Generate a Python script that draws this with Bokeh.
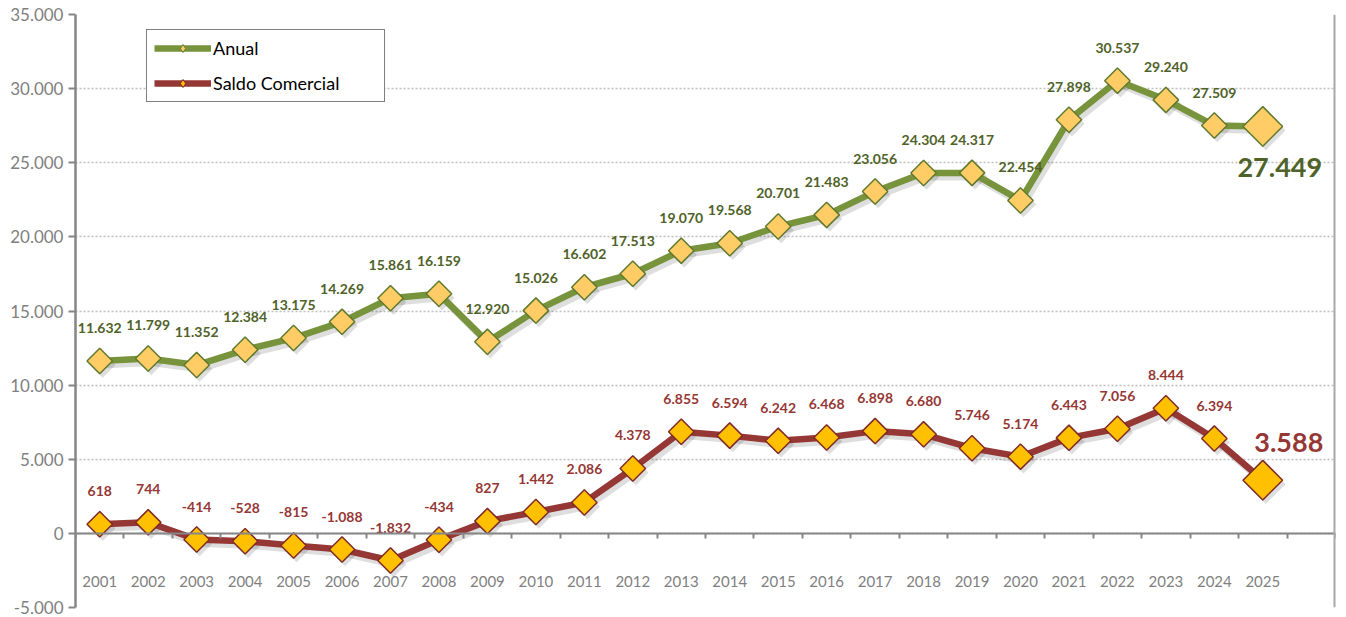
import math
from bokeh.plotting import figure
from bokeh.models import (Range1d, FixedTicker, LinearAxis, Legend, LegendItem,
                          Span, ColumnDataSource)
from bokeh.embed import file_html
from bokeh.resources import INLINE
from bokeh.core.properties import value

# ---------------- data ----------------
years = list(range(2001, 2026))
anual = [11632, 11799, 11352, 12384, 13175, 14269, 15861, 16159, 12920, 15026,
         16602, 17513, 19070, 19568, 20701, 21483, 23056, 24304, 24317, 22454,
         27898, 30537, 29240, 27509, 27449]
saldo = [618, 744, -414, -528, -815, -1088, -1832, -434, 827, 1442,
         2086, 4378, 6855, 6594, 6242, 6468, 6898, 6680, 5746, 5174,
         6443, 7056, 8444, 6394, 3588]
series_names = ["Anual", "Saldo Comercial"]
y_ticks = [-5000, 0, 5000, 10000, 15000, 20000, 25000, 30000, 35000]
y_tick_labels = ["-5.000", "0", "5.000", "10.000", "15.000", "20.000",
                 "25.000", "30.000", "35.000"]
year_labels = [str(y) for y in years]


def fmt(v):
    return f"{v:,}".replace(",", ".")


FONT = "Lato"
GREEN = "#77933C"
GREEN_TXT = "#4F6228"
GREEN_EDGE = "#5F7A2C"
GREEN_FILL = "#FFCC66"
RED = "#953735"
RED_TXT = "#953735"
RED_EDGE = "#7F2A28"
RED_FILL = "#FFC000"
AXIS = "#868686"
LBL = "#7F7F7F"

x0, x1 = years[0] - 0.5, years[-1] + 1.5
y0, y1 = y_ticks[0], y_ticks[-1]
FW, FH = 1260, 593

p = figure(frame_width=FW, frame_height=FH,
           x_range=Range1d(x0, x1), y_range=Range1d(y0, y1),
           output_backend="svg", toolbar_location=None,
           min_border_left=75, min_border_top=14, min_border_right=9,
           min_border_bottom=10, outline_line_color=None,
           background_fill_color="white", border_fill_color="white")

# shadow ranges (shift a few pixels right/down)
dx = 3 * (x1 - x0) / FW
dy = 4 * (y1 - y0) / FH
p.extra_x_ranges = {"sh": Range1d(x0 - dx, x1 - dx)}
p.extra_y_ranges = {"sh": Range1d(y0 + dy, y1 + dy)}

# --- x axis (at zero, ticks between categories) ---
bounds = [y - 0.5 for y in years] + [years[-1] + 0.5, years[-1] + 1.5]
xa = p.xaxis[0]
xa.fixed_location = 0
xa.ticker = FixedTicker(ticks=bounds)
xa.major_label_overrides = {b: " " for b in bounds}
xa.major_label_standoff = 0
xa.major_tick_in = 0
xa.major_tick_out = 5
xa.major_tick_line_color = AXIS
xa.major_tick_line_width = 2
xa.minor_tick_line_color = None
xa.axis_line_color = AXIS
xa.axis_line_width = 2

# year labels axis (low position)
ya_lab = LinearAxis(fixed_location=0, ticker=FixedTicker(ticks=years),
                    major_label_overrides={y: s for y, s in zip(years, year_labels)},
                    axis_line_color=None, major_tick_line_color=None,
                    minor_tick_line_color=None, major_label_standoff=37,
                    major_label_text_font=FONT, major_label_text_font_size="15px",
                    major_label_text_color=LBL)
p.add_layout(ya_lab, "below")

# --- y axis ---
yax = p.yaxis[0]
yax.ticker = FixedTicker(ticks=y_ticks)
yax.major_label_overrides = {t: s for t, s in zip(y_ticks, y_tick_labels)}
yax.axis_line_color = AXIS
yax.axis_line_width = 2.5
yax.major_tick_in = 0
yax.major_tick_out = 7
yax.major_tick_line_color = AXIS
yax.major_tick_line_width = 2
yax.minor_tick_line_color = None
yax.major_label_standoff = 5
yax.major_label_text_font = FONT
yax.major_label_text_font_size = "17px"
yax.major_label_text_color = LBL

p.xgrid.visible = False
p.ygrid.ticker = FixedTicker(ticks=y_ticks)
p.ygrid.grid_line_color = "#BFBFBF"
p.ygrid.grid_line_dash = "2 2"
p.ygrid.grid_line_width = 1.5

# right border shadow
p.add_layout(Span(location=x1, dimension="height", line_color="#A8A8A8", line_width=4))

# --- series ---
def draw_series(vals, line_c, edge_c, fill_c):
    # shadows
    p.line(years, vals, x_range_name="sh", y_range_name="sh",
           line_color="black", line_alpha=0.13, line_width=7, line_join="round")
    p.scatter(years[:-1], vals[:-1], x_range_name="sh", y_range_name="sh",
              marker="square", angle=math.pi / 4, size=18,
              fill_color="black", fill_alpha=0.13, line_color=None)
    p.scatter(years[-1:], vals[-1:], x_range_name="sh", y_range_name="sh",
              marker="square", angle=math.pi / 4, size=28,
              fill_color="black", fill_alpha=0.13, line_color=None)
    ln = p.line(years, vals, line_color=line_c, line_width=6.5, line_join="round")
    # diamond marker used for the legend glyph (hidden beneath the big squares)
    lg = p.scatter(years[:-1], vals[:-1], marker="diamond", size=16,
                   fill_color=fill_c, line_color=edge_c, line_width=1)
    p.scatter(years[:-1], vals[:-1], marker="square", angle=math.pi / 4,
              size=18, fill_color=fill_c, line_color=edge_c, line_width=1.5)
    p.scatter(years[-1:], vals[-1:], marker="square", angle=math.pi / 4,
              size=28, fill_color=fill_c, line_color=edge_c, line_width=1.5)
    return ln, lg


g_ln, g_sc = draw_series(anual, GREEN, GREEN_EDGE, GREEN_FILL)
r_ln, r_sc = draw_series(saldo, RED, RED_EDGE, RED_FILL)

# --- data labels ---
def labels(vals, color):
    src = ColumnDataSource(dict(x=years[:-1], y=vals[:-1],
                                t=[fmt(v) for v in vals[:-1]]))
    p.text(x="x", y="y", text="t", source=src, text_font=value(FONT),
           text_font_style="bold", text_font_size="14px", text_color=color,
           text_align="center", text_baseline="middle", y_offset=-33)


labels(anual, GREEN_TXT)
labels(saldo, RED_TXT)

p.text(x=years[-1:], y=anual[-1:], text=[fmt(anual[-1])], text_font=value(FONT),
       text_font_style="bold", text_font_size="27px", text_color=GREEN_TXT,
       text_align="center", text_baseline="middle", x_offset=17, y_offset=41)
p.text(x=years[-1:], y=saldo[-1:], text=[fmt(saldo[-1])], text_font=value(FONT),
       text_font_style="bold", text_font_size="27px", text_color=RED_TXT,
       text_align="center", text_baseline="middle", x_offset=26, y_offset=-38)

# --- legend ---
legend = Legend(items=[LegendItem(label=series_names[0], renderers=[g_ln, g_sc]),
                       LegendItem(label=series_names[1], renderers=[r_ln, r_sc])],
                location=(71, 505), orientation="vertical",
                border_line_color="black", border_line_width=1,
                background_fill_color="white", background_fill_alpha=1,
                padding=7, spacing=13, glyph_height=20, label_height=20,
                glyph_width=57, label_standoff=2, label_width=164, margin=0,
                label_text_font=FONT, label_text_font_size="18px",
                label_text_color="black")
p.add_layout(legend, "center")

open("out.html", "w").write(file_html(p, INLINE))
